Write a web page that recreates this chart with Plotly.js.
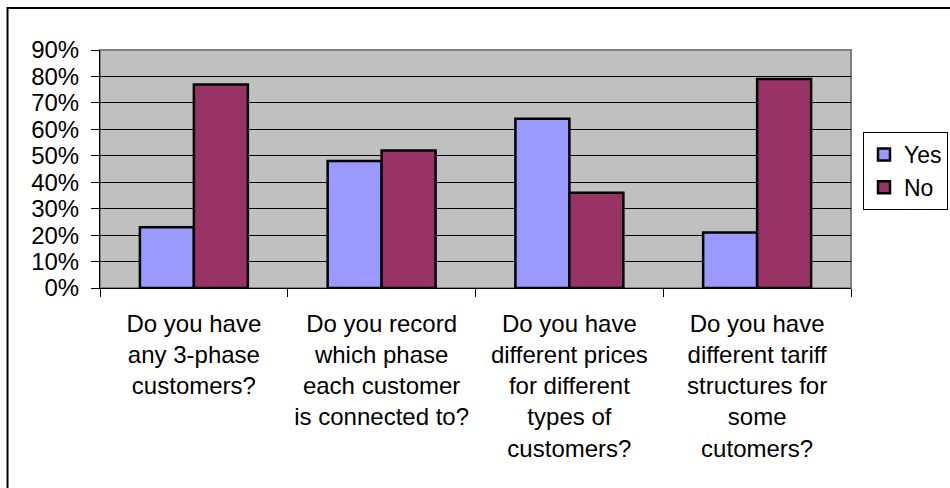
<!DOCTYPE html>
<html>
<head>
<meta charset="utf-8">
<script src="https://cdn.plot.ly/plotly-3.0.1.min.js"></script>
<style>html,body{margin:0;padding:0;background:#fff;}#chart{width:950px;height:488px;}</style>
</head>
<body>
<div id="chart"></div>
<script>
const categories = [
  "Do you have<br>any 3-phase<br>customers?",
  "Do you record<br>which phase<br>each customer<br>is connected to?",
  "Do you have<br>different prices<br>for different<br>types of<br>customers?",
  "Do you have<br>different tariff<br>structures for<br>some<br>cutomers?"
];
const seriesNames = ["Yes", "No"];
const yesValues = [0.23, 0.48, 0.64, 0.21];
const noValues = [0.77, 0.52, 0.36, 0.79];
const yTickVals = [0, 0.1, 0.2, 0.3, 0.4, 0.5, 0.6, 0.7, 0.8, 0.9];
const yTickText = ["0%", "10%", "20%", "30%", "40%", "50%", "60%", "70%", "80%", "90%"];

const font = "Liberation Sans, Arial, sans-serif";
const W = 950, H = 488;
const L = 100, R = 99, T = 50, B = 200;
const pw = W - L - R, ph = H - T - B;
const px = x => (x - L) / pw;
const py = y => (H - B - y) / ph;

const traces = [
  {type: "bar", name: seriesNames[0], x: categories, y: yesValues,
   marker: {color: "#9999FF", line: {color: "#000000", width: 2.5}}},
  {type: "bar", name: seriesNames[1], x: categories, y: noValues,
   marker: {color: "#993366", line: {color: "#000000", width: 2.5}}}
];

const layout = {
  width: W, height: H,
  margin: {l: L, r: R, t: T, b: B, pad: 0, autoexpand: false},
  paper_bgcolor: "#ffffff",
  plot_bgcolor: "#C0C0C0",
  font: {family: font, size: 24, color: "#000000"},
  barmode: "group",
  bargap: 0.425,
  bargroupgap: 0,
  showlegend: true,
  legend: {
    x: px(948), y: py(132), xanchor: "right", yanchor: "top",
    bgcolor: "#ffffff", bordercolor: "#000000", borderwidth: 1,
    font: {family: font, size: 23, color: "#000000"},
    itemwidth: 30, tracegroupgap: 0
  },
  xaxis: {
    type: "category",
    showgrid: false, zeroline: false,
    showline: true, linecolor: "#000000", linewidth: 1,
    ticks: "outside", tickson: "boundaries", ticklen: 8, tickcolor: "#000000", tickwidth: 1,
    tickfont: {family: font, size: 24, color: "#000000"},
    ticklabelstandoff: 14,
    tickangle: 0,
    automargin: false
  },
  yaxis: {
    range: [0, 0.9], tickvals: yTickVals, ticktext: yTickText,
    showgrid: true, gridcolor: "#000000", gridwidth: 1,
    zeroline: false,
    showline: true, linecolor: "#000000", linewidth: 1,
    ticks: "outside", ticklen: 8, tickcolor: "#000000", tickwidth: 1,
    tickfont: {family: font, size: 24, color: "#000000"},
    ticklabelstandoff: 7,
    automargin: false
  },
  shapes: [
    {type: "rect", xref: "paper", yref: "paper", x0: 0, x1: 1, y0: 0, y1: 1,
     line: {color: "#808080", width: 2}, layer: "below"},
    {type: "rect", xref: "paper", yref: "paper",
     x0: px(7.5), x1: px(990), y0: py(520), y1: py(8),
     line: {color: "#000000", width: 2}, fillcolor: "rgba(0,0,0,0)", layer: "above"}
  ]
};

Plotly.newPlot("chart", traces, layout, {displayModeBar: false, staticPlot: true});
</script>
</body>
</html>
